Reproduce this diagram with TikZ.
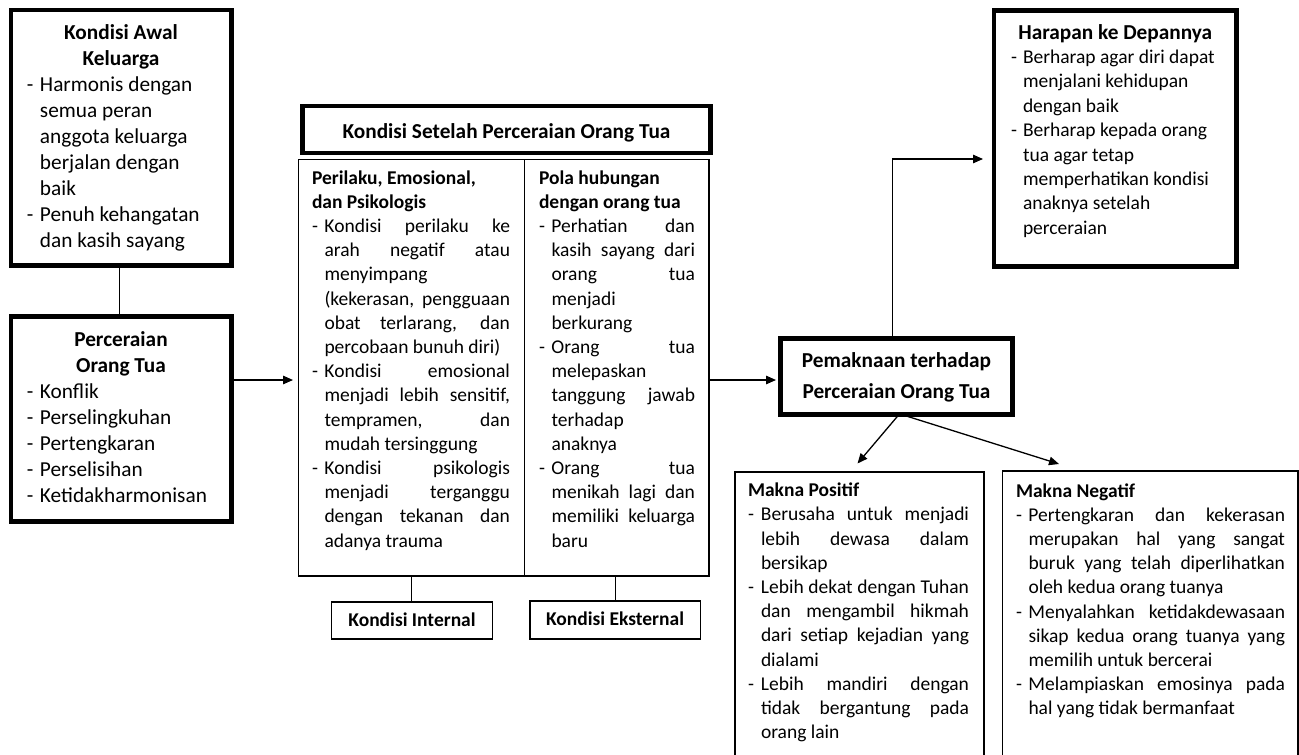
\documentclass[tikz,border=0pt]{standalone}
\usepackage{fontspec}
\setmainfont{Carlito}
\usetikzlibrary{arrows.meta,calc}

\newlength\hng
\newcommand\itm{\par\hangindent=\hng\hangafter=1\noindent\hbox to\hng{-\hfil}\ignorespaces}
\newcommand\medf{\fontsize{19.5pt}{24.2pt}\selectfont}
\newcommand\bigf{\fontsize{21.3pt}{26pt}\selectfont}
\newcommand\rag{\raggedright\hyphenpenalty=10000 }
\newcommand\jus{\rightskip=0pt\leftskip=0pt\tolerance=10000 \hyphenpenalty=10000 \exhyphenpenalty=10000 }

\tikzset{
  thickbox/.style={draw=black, line width=4.5pt, fill=white, inner sep=0pt, outer sep=0pt, anchor=north west},
  thinbox/.style={draw=black, line width=1.3pt, fill=white, inner sep=0pt, outer sep=0pt, anchor=north west},
  txt/.style={inner sep=0pt, outer sep=0pt},
  conn/.style={draw=black, line width=1.3pt},
  arr/.style={-{Triangle[length=10pt,width=8.5pt]}},
}

\begin{document}
\begin{tikzpicture}[x=1pt,y=-1pt]
\useasboundingbox (0,0) rectangle (1299,755);
\fill[white] (0,0) rectangle (1299,755);
\clip (0,0) rectangle (1299,755);

% ---------- boxes ----------
\node[thickbox, minimum width=220.5pt, minimum height=255.5pt] (A) at (11,10) {};
\node[thickbox, minimum width=220.5pt, minimum height=205pt] (B) at (11,316.5) {};
\node[thickbox, minimum width=408pt, minimum height=47pt] (T) at (302.5,106) {};
\node[thinbox, minimum width=226pt, minimum height=416.5pt] (L) at (298.5,159.5) {};
\node[thinbox, minimum width=184.5pt, minimum height=416.5pt] (R) at (524.5,159.5) {};
\node[thinbox, minimum width=161pt, minimum height=37pt] (KI) at (331.5,602) {};
\node[thinbox, minimum width=170.5pt, minimum height=38pt] (KE) at (530,601) {};
\node[thickbox, minimum width=232pt, minimum height=76pt] (P) at (780.5,338.5) {};
\node[thickbox, minimum width=242.5pt, minimum height=256pt] (H) at (994,10.5) {};
\node[thinbox, minimum width=249pt, minimum height=308pt] (MP) at (735,472) {};
\node[thinbox, minimum width=295.5pt, minimum height=309pt] (MN) at (1002.5,471) {};

% ---------- connectors ----------
\coordinate (rowy) at (0,380);
\coordinate (hy) at (0,159);
\coordinate (mpin) at (857.5,463.5);
\coordinate (mnin) at (1059,464);
\draw[conn] ([xshift=-1.5pt]A.south) -- ([xshift=-1.5pt]A.south |- B.north);
\draw[conn, arr, shorten >=5.5pt] (B.east |- rowy) -- (L.west |- rowy);
\draw[conn, arr, shorten >=4.5pt] (R.east |- rowy) -- (P.west |- rowy);
\draw[conn, arr, shorten >=11pt] ([xshift=-4pt]P.north) |- (H.west |- hy);
\draw[conn, arr] ([xshift=2.5pt]P.south) -- (mpin);
\draw[conn, arr] ([xshift=5pt]P.south) -- (mnin);
\draw[conn] (L.south) -- (L.south |- KI.north);
\draw[conn] ([xshift=-1.5pt]R.south) -- ([xshift=-1.5pt]R.south |- KE.north);

% ---------- texts ----------
\node[txt, anchor=base west] (At) at (27,39) {\parbox[t]{188pt}{\bigf\hng=13pt
  {\centering\bfseries Kondisi Awal\\Keluarga\par}
  \rag
  \itm Harmonis dengan\break semua peran\break anggota keluarga\break berjalan dengan\break baik
  \itm Penuh kehangatan\break dan kasih sayang\par}};

\node[txt, anchor=base west] (Bt) at (27,346) {\parbox[t]{188pt}{\bigf\hng=13pt
  {\centering\bfseries Perceraian\\Orang Tua\par}
  \rag
  \itm Konflik
  \itm Perselingkuhan
  \itm Pertengkaran
  \itm Perselisihan
  \itm Ketidakharmonisan\par}};

\node[txt, anchor=base] (Tt) at (506.5,138.5) {\bigf\bfseries Kondisi Setelah Perceraian Orang Tua};

\node[txt, anchor=base west] (Lt) at (312,184) {\parbox[t]{198pt}{\medf\hng=12.5pt
  {\raggedright\bfseries Perilaku, Emosional,\\dan Psikologis\par}
  \jus
  \itm Kondisi perilaku ke\break arah negatif atau\break menyimpang\newline (kekerasan, pengguaan\break obat terlarang, dan\break percobaan bunuh diri)
  \itm Kondisi emosional\break menjadi lebih sensitif,\break tempramen, dan\break mudah tersinggung
  \itm Kondisi psikologis\break menjadi terganggu\break dengan tekanan dan\break adanya trauma\par}};

\node[txt, anchor=base west] (Rt) at (539,184) {\parbox[t]{156pt}{\medf\hng=12.5pt
  {\raggedright\bfseries Pola hubungan\\dengan orang tua\par}
  \jus
  \itm Perhatian dan\break kasih sayang dari\break orang tua\break menjadi\newline berkurang
  \itm Orang tua\break melepaskan\newline tanggung jawab\break terhadap\newline anaknya
  \itm Orang tua\break menikah lagi dan\break memiliki keluarga\break baru\par}};

\node[txt, anchor=base] (KIt) at (412,626.5) {\medf\bfseries Kondisi Internal};
\node[txt, anchor=base] (KEt) at (615,625) {\medf\bfseries Kondisi Eksternal};

\node[txt, anchor=base] (Pt) at (896.5,367) {\parbox[t]{228pt}{\centering\fontsize{21.3pt}{31pt}\selectfont\bfseries Pemaknaan terhadap\\Perceraian Orang Tua\par}};

\node[txt, anchor=base west] (Ht) at (1011,39) {\parbox[t]{208.5pt}{\fontsize{19.5pt}{24.4pt}\selectfont\hng=12pt
  {\centering\bigf\bfseries Harapan ke Depannya\par}
  \rag
  \itm Berharap agar diri dapat\break menjalani kehidupan\break dengan baik
  \itm Berharap kepada orang\break tua agar tetap\break memperhatikan kondisi\break anaknya setelah\break perceraian\par}};

\node[txt, anchor=base west] (MPt) at (748,496.7) {\parbox[t]{221pt}{\medf\hng=13pt
  {\raggedright\bfseries Makna Positif\par}
  \jus
  \itm Berusaha untuk menjadi\break lebih dewasa dalam\break bersikap
  \itm Lebih dekat dengan Tuhan\break dan mengambil hikmah\break dari setiap kejadian yang\break dialami
  \itm Lebih mandiri dengan\break tidak bergantung pada\break orang lain\par}};

\node[txt, anchor=base west] (MNt) at (1016,497) {\parbox[t]{269pt}{\medf\hng=12.5pt
  {\raggedright\bfseries Makna Negatif\par}
  \jus
  \itm Pertengkaran dan kekerasan\break merupakan hal yang sangat\break buruk yang telah diperlihatkan\break oleh kedua orang tuanya
  \itm Menyalahkan ketidakdewasaan\break sikap kedua orang tuanya yang\break memilih untuk bercerai
  \itm Melampiaskan emosinya pada\break hal yang tidak bermanfaat\par}};

\end{tikzpicture}
\end{document}
